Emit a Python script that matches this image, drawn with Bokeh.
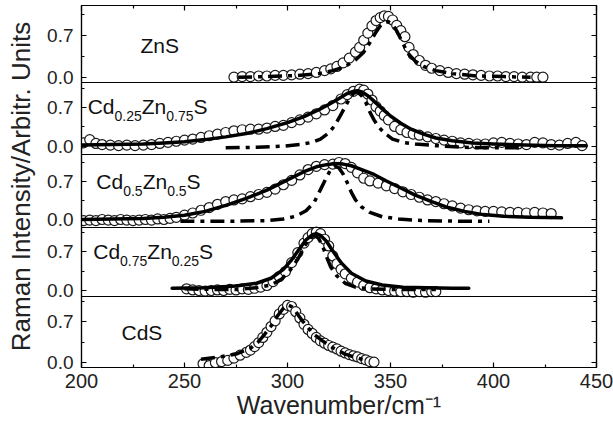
import math
from bokeh.plotting import figure
from bokeh.models import (Range1d, FixedTicker, LinearAxis, CustomLabelingPolicy, Span)
from bokeh.embed import file_html
from bokeh.resources import INLINE
from bokeh.core.properties import value

FONT = "Liberation Sans"

# ---------------- data ----------------
# Panel 1: ZnS
zns_exp_x = [274, 278, 282, 286, 290, 294, 298, 302, 306, 310, 314, 318, 321, 324, 327, 330, 333, 335, 337, 339,
             341, 343, 345, 347, 349, 351, 353, 355, 357, 359, 361, 364, 367, 370, 374, 378, 382, 386, 390, 394,
             398, 402, 406, 410, 414, 418, 421, 424]
zns_exp_y = [0.00, 0.01, 0.01, 0.02, 0.02, 0.03, 0.03, 0.04, 0.05, 0.06, 0.08, 0.11, 0.14, 0.18, 0.24, 0.32, 0.42, 0.50, 0.62, 0.74,
             0.86, 0.95, 1.00, 1.03, 1.02, 0.96, 0.87, 0.78, 0.68, 0.50, 0.38, 0.28, 0.20, 0.15, 0.11, 0.08, 0.06, 0.05, 0.04, 0.03,
             0.02, 0.02, 0.01, 0.01, 0.00, 0.00, 0.00, 0.00]
zns_comp_x = [276, 290, 305, 315, 322, 328, 333, 337, 340, 343, 345, 347, 349, 351, 353, 355, 357, 359, 362, 366,
              372, 380, 392, 405, 418]
zns_comp_y = [0.00, 0.01, 0.03, 0.06, 0.11, 0.18, 0.29, 0.42, 0.58, 0.76, 0.86, 0.92, 0.93, 0.88, 0.78, 0.64, 0.50, 0.38, 0.27, 0.18,
              0.11, 0.06, 0.02, 0.01, 0.00]

# Panel 2: Cd0.25Zn0.75S
c25_exp_x = [201, 204, 207, 210, 214, 218, 222, 226, 230, 234, 238, 242, 246, 250, 254, 258, 262, 266, 270, 274,
             278, 282, 286, 290, 294, 298, 302, 306, 310, 314, 318, 322, 326, 329, 332, 335, 337, 339, 341, 343,
             345, 347, 349, 352, 355, 358, 361, 364, 368, 372, 376, 380, 384, 388, 392, 396, 400, 404, 408, 412,
             416, 420, 424, 428, 432, 436, 440, 443]
c25_exp_y = [0.06, 0.12, 0.05, 0.03, 0.02, 0.01, 0.02, 0.01, 0.02, 0.03, 0.05, 0.07, 0.09, 0.11, 0.13, 0.16, 0.19, 0.22, 0.25, 0.28,
             0.30, 0.31, 0.31, 0.33, 0.36, 0.38, 0.43, 0.48, 0.53, 0.59, 0.66, 0.74, 0.86, 0.94, 1.00, 1.04, 1.02, 0.95, 0.84, 0.72,
             0.64, 0.56, 0.48, 0.36, 0.30, 0.25, 0.22, 0.20, 0.17, 0.14, 0.11, 0.09, 0.06, 0.05, 0.04, 0.04, 0.06, 0.07, 0.05, 0.04,
             0.03, 0.07, 0.06, 0.03, 0.02, 0.05, 0.07, 0.01]
c25_fit_x = [200, 215, 230, 240, 250, 260, 270, 280, 290, 300, 308, 315, 320, 325, 329, 332, 334, 336, 339, 342,
             346, 350, 355, 360, 366, 372, 380, 390, 400, 415, 430, 445]
c25_fit_y = [0.02, 0.03, 0.04, 0.06, 0.08, 0.12, 0.17, 0.23, 0.32, 0.43, 0.54, 0.66, 0.76, 0.87, 0.96, 1.00, 1.01, 0.99, 0.92, 0.82,
             0.68, 0.55, 0.42, 0.31, 0.22, 0.15, 0.10, 0.06, 0.04, 0.02, 0.01, 0.01]
c25_comp_x = [270, 285, 298, 306, 312, 316, 320, 323, 326, 328, 330, 332, 334, 336, 338, 340, 342, 344, 347, 351,
              356, 362, 372, 385, 400, 415]
c25_comp_y = [-0.03, -0.02, 0.00, 0.03, 0.07, 0.13, 0.24, 0.38, 0.58, 0.72, 0.86, 0.96, 0.99, 0.92, 0.80, 0.62, 0.48, 0.36, 0.24, 0.13,
              0.07, 0.04, 0.01, -0.02, -0.03, -0.03]

# Panel 3: Cd0.5Zn0.5S
c50_exp_x = [201, 204, 207, 210, 213, 216, 219, 222, 225, 228, 231, 234, 237, 240, 243, 246,
             250, 254, 258, 262, 266, 270, 274, 278, 282, 286, 290, 294, 298, 302, 306, 310, 314, 318,
             322, 325, 328, 331, 334, 337, 340,
             344, 348, 352, 356, 360, 364, 368, 372, 376, 380, 384, 388, 392, 396, 400, 404, 408, 412, 416, 420, 424, 428]
c50_exp_y = [-0.02, -0.01, -0.02, 0.00, -0.01, -0.02, 0.00, -0.01, -0.02, -0.01, 0.00, -0.01, 0.01, 0.00, 0.02, 0.04,
             0.08, 0.12, 0.17, 0.22, 0.28, 0.33, 0.36, 0.38, 0.42, 0.46, 0.50, 0.56, 0.64, 0.72, 0.82, 0.92, 0.98, 1.01,
             1.02, 1.05, 1.03, 0.96, 0.86, 0.76, 0.71,
             0.67, 0.62, 0.57, 0.51, 0.46, 0.41, 0.36, 0.33, 0.29, 0.25, 0.21, 0.18, 0.16, 0.15, 0.15, 0.14, 0.13, 0.13, 0.12, 0.13, 0.12, 0.11]
c50_fit_x = [200, 215, 230, 240, 250, 260, 270, 280, 290, 300, 308, 314, 319, 323, 327, 331, 336, 342, 348, 355,
             362, 370, 378, 386, 395, 405, 418, 433]
c50_fit_y = [0.00, 0.01, 0.02, 0.04, 0.08, 0.15, 0.26, 0.39, 0.54, 0.73, 0.88, 0.97, 1.01, 1.03, 1.02, 0.99, 0.92, 0.83, 0.71, 0.58,
             0.45, 0.33, 0.22, 0.15, 0.09, 0.06, 0.04, 0.03]
c50_comp_x = [248, 260, 275, 290, 298, 304, 309, 313, 316, 319, 321, 323, 325, 327, 329, 331, 333, 336, 340, 346,
              354, 365, 380, 398]
c50_comp_y = [-0.03, -0.03, -0.03, -0.02, 0.01, 0.06, 0.16, 0.32, 0.55, 0.78, 0.92, 0.98, 0.95, 0.84, 0.68, 0.50, 0.36, 0.23, 0.13, 0.05,
              0.01, -0.02, -0.03, -0.03]

# Panel 4: Cd0.75Zn0.25S
c75_exp_x = [251, 254, 257, 260, 263, 266, 269, 272, 275, 278, 281, 284, 287, 290, 293, 296, 299, 302, 305, 308,
             310, 312, 314, 316, 318, 320, 322, 324, 326, 328, 331, 334, 337, 340, 343, 346, 349, 352, 355, 358,
             361, 364, 367, 370, 372]
c75_exp_y = [0.03, 0.01, 0.00, -0.01, 0.00, 0.01, 0.00, 0.02, 0.01, 0.03, 0.02, 0.04, 0.06, 0.09, 0.16, 0.25, 0.34, 0.50, 0.68, 0.85,
             0.95, 1.02, 1.05, 1.02, 0.92, 0.80, 0.62, 0.48, 0.38, 0.30, 0.22, 0.15, 0.09, 0.05, 0.03, 0.01, 0.00, -0.01, -0.02, -0.02,
             -0.03, -0.02, -0.03, -0.02, -0.02]
c75_fit_x = [244, 260, 275, 285, 292, 298, 302, 306, 309, 312, 314, 316, 319, 322, 326, 331, 338, 346, 356, 368, 380, 388]
c75_fit_y = [0.04, 0.05, 0.08, 0.13, 0.22, 0.38, 0.55, 0.76, 0.91, 1.00, 1.02, 0.99, 0.88, 0.71, 0.50, 0.31, 0.17, 0.10, 0.06, 0.05, 0.04, 0.04]
c75_comp_x = [250, 262, 275, 285, 292, 297, 301, 305, 308, 311, 313, 315, 317, 319, 321, 324, 328, 333, 340, 350, 362, 372]
c75_comp_y = [0.03, 0.02, 0.02, 0.05, 0.10, 0.20, 0.35, 0.56, 0.78, 0.95, 0.99, 0.94, 0.80, 0.60, 0.42, 0.26, 0.13, 0.06, 0.03, 0.02, 0.02, 0.02]

# Panel 5: CdS
cds_exp_x = [259, 262, 265, 268, 271, 274, 277, 280, 282, 284, 286, 288, 290, 292, 294, 296, 298, 300, 302, 304,
             306, 308, 310, 312, 314, 316, 318, 320, 322, 324, 326, 328, 330, 332, 334, 336, 338, 340, 342]
cds_exp_y = [-0.03, -0.06, -0.01, 0.01, 0.03, 0.07, 0.12, 0.17, 0.21, 0.27, 0.34, 0.43, 0.52, 0.62, 0.72, 0.84, 0.92, 0.99, 0.97, 0.88,
             0.77, 0.66, 0.57, 0.50, 0.43, 0.37, 0.33, 0.29, 0.26, 0.23, 0.19, 0.16, 0.13, 0.11, 0.09, 0.06, 0.04, 0.01, 0.00]
cds_comp_x = [258, 267, 275, 282, 286, 289, 292, 295, 298, 300, 302, 304, 307, 310, 313, 317, 322, 328, 333, 337]
cds_comp_y = [0.05, 0.09, 0.14, 0.24, 0.36, 0.49, 0.63, 0.80, 0.94, 1.00, 0.97, 0.88, 0.73, 0.60, 0.48, 0.37, 0.25, 0.14, 0.08, 0.04]

# ticks and labels
x_major_ticks = [200, 250, 300, 350, 400, 450]
x_minor_ticks = [225, 275, 325, 375, 425]
y_major_ticks = [0.0, 0.7]
y_major_labels = ["0.0", "0.7"]
y_minor_ticks = [0.35, 1.05]
x_title = "Wavenumber/cm\u207b\u00b9"
y_title = "Raman Intensity/Arbitr. Units"

# sample name pieces: (text, is_subscript)
sample_names = [
    [("ZnS", 0)],
    [("Cd", 0), ("0.25", 1), ("Zn", 0), ("0.75", 1), ("S", 0)],
    [("Cd", 0), ("0.5", 1), ("Zn", 0), ("0.5", 1), ("S", 0)],
    [("Cd", 0), ("0.75", 1), ("Zn", 0), ("0.25", 1), ("S", 0)],
    [("CdS", 0)],
]

series = [
    (zns_exp_x, zns_exp_y, None, None, zns_comp_x, zns_comp_y),
    (c25_exp_x, c25_exp_y, c25_fit_x, c25_fit_y, c25_comp_x, c25_comp_y),
    (c50_exp_x, c50_exp_y, c50_fit_x, c50_fit_y, c50_comp_x, c50_comp_y),
    (c75_exp_x, c75_exp_y, c75_fit_x, c75_fit_y, c75_comp_x, c75_comp_y),
    (cds_exp_x, cds_exp_y, None, None, cds_comp_x, cds_comp_y),
]

# ---------------- layout / style ----------------
FRAME_W, FRAME_H = 515, 362
# stacked-panel geometry in frame pixels measured from the frame bottom
panel_bottoms = [285, 213, 140, 71, 0]          # lower edge of each panel band
panel_zero = [290.3, 221.3, 148.0, 77.0, 5.4]  # where each panel's 0.0 sits
panel_scale = [59.6, 54.9, 54.3, 55.7, 57.3]   # px per intensity unit
label_pos = [(228.6, 0.53), (203.0, 0.71), (207.2, 0.69), (205.7, 0.69), (219.4, 0.50)]

MAIN_FS = 21
SUB_FS = 14
AW = {'C': 722, 'd': 556, 'Z': 611, 'n': 556, 'S': 667, '.': 278}
for dch in "0123456789":
    AW[dch] = 556


def text_w(s, fs):
    return sum(AW.get(c, 556) for c in s) / 1000.0 * fs


p = figure(frame_width=FRAME_W, frame_height=FRAME_H,
           x_range=Range1d(200, 450), y_range=Range1d(0, FRAME_H),
           output_backend="svg", toolbar_location=None,
           min_border_left=81, min_border_right=17, min_border_top=5, min_border_bottom=60,
           background_fill_color="white", border_fill_color="white",
           outline_line_color="black", outline_line_width=1.2)
p.grid.visible = False

# one intensity scale per panel, each spanning the whole frame
for k in range(len(series)):
    v0, s = panel_zero[k], panel_scale[k]
    p.extra_y_ranges[f"p{k}"] = Range1d((0 - v0) / s, (FRAME_H - v0) / s)

# y ticks in frame coordinates, labelled with each panel's intensity
major_pos, minor_pos, overrides = [], [], {}
for k in range(len(series)):
    v0, s = panel_zero[k], panel_scale[k]
    for t, lab in zip(y_major_ticks, y_major_labels):
        pos = round(v0 + t * s, 2)
        major_pos.append(pos)
        overrides[pos] = lab
    for t in y_minor_ticks:
        minor_pos.append(round(v0 + t * s, 2))

ya = p.yaxis[0]
ya.ticker = FixedTicker(ticks=major_pos, minor_ticks=minor_pos)
ya.major_label_overrides = overrides
ya.major_tick_in = 5
ya.major_tick_out = 0
ya.minor_tick_in = 3
ya.minor_tick_out = 0
ya.major_tick_line_width = 1.2
ya.minor_tick_line_width = 1.2
ya.axis_line_width = 1.2
ya.major_label_standoff = 8
ya.major_label_text_font = FONT
ya.major_label_text_font_size = "19px"
ya.major_label_text_color = "#222222"
ya.axis_label = y_title
ya.axis_label_text_font = FONT
ya.axis_label_text_font_size = "26px"
ya.axis_label_text_font_style = "normal"
ya.axis_label_text_color = "#222222"
ya.axis_label_standoff = 8

xa = p.xaxis[0]
xa.ticker = FixedTicker(ticks=x_major_ticks, minor_ticks=x_minor_ticks)
xa.major_tick_in = 5
xa.major_tick_out = 0
xa.minor_tick_in = 3
xa.minor_tick_out = 0
xa.major_tick_line_width = 1.2
xa.minor_tick_line_width = 1.2
xa.axis_line_width = 1.2
xa.major_label_standoff = 6
xa.major_label_text_font = FONT
xa.major_label_text_font_size = "20px"
xa.major_label_text_color = "#222222"
xa.axis_label = x_title
xa.axis_label_text_font = FONT
xa.axis_label_text_font_size = "25px"
xa.axis_label_text_font_style = "normal"
xa.axis_label_text_color = "#222222"
xa.axis_label_standoff = 0


def hidden_axis(ticker):
    return LinearAxis(ticker=ticker, major_label_text_font_size="1px", major_label_standoff=0,
                      major_label_policy=CustomLabelingPolicy(code="return"),
                      major_tick_in=5, major_tick_out=0, minor_tick_in=3, minor_tick_out=0,
                      major_tick_line_width=1.2, minor_tick_line_width=1.2,
                      axis_line_color="black", axis_line_width=1.2)


p.add_layout(hidden_axis(FixedTicker(ticks=major_pos, minor_ticks=minor_pos)), "right")
p.add_layout(hidden_axis(FixedTicker(ticks=x_major_ticks, minor_ticks=x_minor_ticks)), "above")

# panel separators
for b in panel_bottoms[:-1]:
    p.add_layout(Span(location=b, dimension="width", line_color="black", line_width=1.2))

for k, (ex, ey, fx, fy, cx, cy) in enumerate(series):
    rn = f"p{k}"
    # experimental points
    p.scatter(ex, ey, y_range_name=rn, marker="circle", size=10,
              fill_color="white", line_color="#1a1a1a", line_width=1.2)
    # fitted curve
    if fx is not None:
        p.line(fx, fy, y_range_name=rn, line_color="black", line_width=3.5,
               line_join="round", line_cap="round")
    # component (dash-dot)
    p.line(cx, cy, y_range_name=rn, line_color="black", line_width=3.5,
           line_dash="14 6 4 6", line_join="round")

    # sample name with subscripts
    lx, ly = label_pos[k]
    mains_t, mains_o, subs_t, subs_o = [], [], [], []
    off = 0.0
    for txt, sub in sample_names[k]:
        if sub:
            subs_t.append(txt)
            subs_o.append(off)
            off += text_w(txt, SUB_FS)
        else:
            mains_t.append(txt)
            mains_o.append(off)
            off += text_w(txt, MAIN_FS)
    p.text(x=[lx] * len(mains_t), y=[ly] * len(mains_t), text=mains_t, x_offset=mains_o,
           y_range_name=rn, y_offset=-0.5, text_align="left", text_baseline="alphabetic",
           text_font=value(FONT), text_font_size=f"{MAIN_FS}px", text_color="#111111")
    if subs_t:
        p.text(x=[lx] * len(subs_t), y=[ly] * len(subs_t), text=subs_t, x_offset=subs_o,
               y_range_name=rn, y_offset=8.5, text_align="left", text_baseline="alphabetic",
               text_font=value(FONT), text_font_size=f"{SUB_FS}px", text_color="#111111")

open("out.html", "w").write(file_html(p, INLINE))
